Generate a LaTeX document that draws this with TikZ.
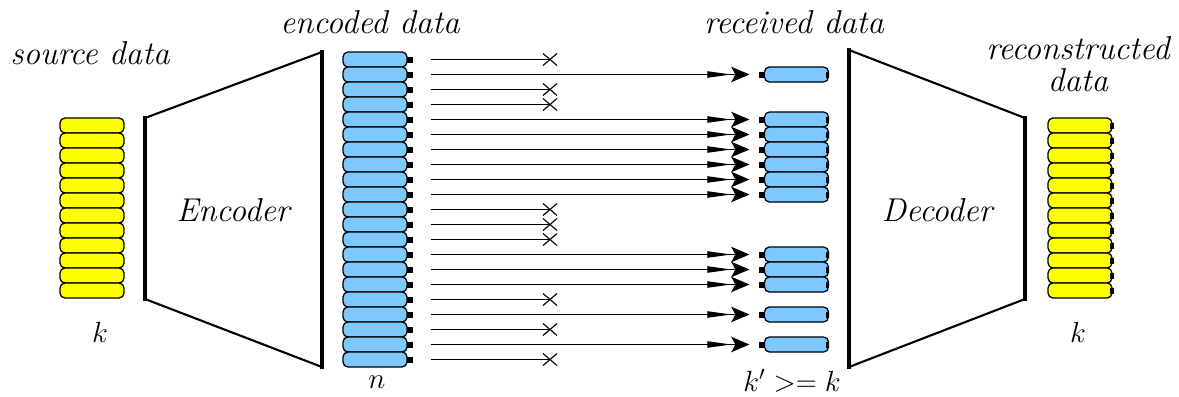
\documentclass[tikz,border=0pt]{standalone}
\usetikzlibrary{arrows.meta,calc}
\definecolor{pktblue}{RGB}{125,200,255}
\definecolor{pktyellow}{RGB}{255,255,0}
\tikzset{
  cell/.style={draw=black, line width=0.9pt, rounded corners=3.5pt,
    minimum width=45.5pt, minimum height=10.67pt, inner sep=0pt, outer sep=0pt},
  srccell/.style={cell, fill=pktyellow},
  pktcell/.style={cell, fill=pktblue},
  label/.style={font=\fontsize{23.5}{27}\selectfont\itshape, inner sep=0pt},
  mathlabel/.style={font=\fontsize{22}{26}\selectfont, inner sep=0pt},
  sent/.style={line width=0.8pt, shorten <=17pt, shorten >=10.7pt,
    -{Stealth[length=17pt,width=4.5pt,inset=0pt,sep=0pt] Stealth[length=13pt,width=11pt,inset=3pt]}},
  lost/.style={line width=0.8pt, shorten <=17pt},
  crossmark/.style={line width=0.8pt},
  codeside/.style={line width=3pt},
  codeslant/.style={line width=1.5pt}
}
\begin{document}
\begin{tikzpicture}[x=0.025cm, y=-0.025cm]
\useasboundingbox (0,0) rectangle (1179,396);

% source data (k blocks)
\foreach \i in {0,...,11}
  \node[srccell] (s\i) at (92,{125.5+15*\i}) {};

% encoded data (n blocks)
\foreach \i in {0,...,20} {
  \node[pktcell] (e\i) at (375,{59.5+15*\i}) {};
  \fill ($(e\i.east)+(0,-3)$) rectangle ++(6,6);
}

% blocks that arrive at the receiver
\foreach \i in {1,4,5,6,7,8,9,13,14,15,17,19} {
  \node[pktcell] (r\i) at (796.5,{59.5+15*\i}) {};
  \fill ($(r\i.west)+(-6,-3)$) rectangle ++(6,6);
  \fill ($(r\i.east)+(-2,-3)$) rectangle ++(3,6);
  \draw[sent] (e\i) -- (r\i);
}

% blocks lost on the way
\foreach \i in {0,2,3,10,11,12,16,18,20} {
  \coordinate (x\i) at (550,{59.5+15*\i});
  \draw[lost] (e\i) -- (x\i);
  \draw[crossmark] ($(x\i)+(-7,-6)$) -- ($(x\i)+(7,6)$)
                   ($(x\i)+(-7,6)$) -- ($(x\i)+(7,-6)$);
}

% reconstructed data (k blocks)
\foreach \i in {0,...,11} {
  \node[srccell] (d\i) at (1080,{125.5+15*\i}) {};
  \fill ($(d\i.east)+(-2,-3)$) rectangle ++(4,6);
}

% encoder
\draw[codeslant] (145,118) -- (322,52) (322,367) -- (145,299);
\draw[codeside] (145,116) -- (145,301) (322,50) -- (322,369);
\node[label] (enc) at (233,210) {Encoder};

% decoder
\draw[codeslant] (849,50) -- (1025,118) (1025,299) -- (849,367);
\draw[codeside] (849,48) -- (849,369) (1025,116) -- (1025,301);
\node[label] (dec) at (937,210) {Decoder};

% captions
\node[label] (tsrc) at (90,53) {source data};
\node[label] (tenc) at (370,22) {encoded data};
\node[label] (trcv) at (794,22) {received data};
\node[label, align=center] (trec) at (1078,64) {reconstructed\\[-4pt]data};
\node[mathlabel] (tk1) at (100,332) {$k$};
\node[mathlabel] (tn) at (377,382) {$n$};
\node[mathlabel] (tkp) at (792,381) {$k' >= k$};
\node[mathlabel] (tk2) at (1078,332) {$k$};
\end{tikzpicture}
\end{document}
